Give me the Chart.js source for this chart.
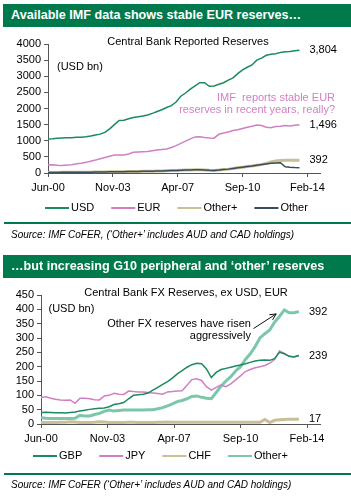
<!DOCTYPE html>
<html>
<head>
<meta charset="utf-8">
<script src="https://cdn.jsdelivr.net/npm/chart.js@4.4.1/dist/chart.umd.min.js"></script>
<style>
  body { margin: 0; background: #fff; font-family: "Liberation Sans", Arial, sans-serif; }
  #page { position: relative; width: 351px; height: 497px; overflow: hidden; background: #fff; }
  .bar { position: absolute; left: 3px; width: 348px; height: 23px; background: #007a4d; color: #fff;
         font-weight: bold; font-size: 12.6px; line-height: 23px; padding-left: 8px; box-sizing: border-box; white-space: nowrap; }
  .rule { position: absolute; left: 4px; width: 347px; height: 2px; background: #007a4d; }
  .src { position: absolute; left: 11px; font-style: italic; font-size: 10px; line-height: 12px; white-space: nowrap; color: #000; }
  canvas { position: absolute; left: 0; }
</style>
</head>
<body>
<div id="page">
  <div class="bar" style="top:4px">Available IMF data shows stable EUR reserves…</div>
  <canvas id="top" width="351" height="194" style="top:30px"></canvas>
  <div class="rule" style="top:222px"></div>
  <div class="src" style="top:229px">Source: IMF CoFER, (‘Other+’ includes AUD and CAD holdings)</div>

  <div class="bar" style="top:255px">…but increasing G10 peripheral and ‘other’ reserves</div>
  <canvas id="bottom" width="351" height="189" style="top:282px"></canvas>
  <div class="rule" style="top:473px"></div>
  <div class="src" style="top:479px">Source: IMF CoFER (‘Other+’ includes AUD and CAD holdings)</div>
</div>

<script>
// quarterly observations, Jun-00 .. Sep-13 (3 months apart)
const quarters = [
  'Jun-00','Sep-00','Dec-00','Mar-01','Jun-01','Sep-01','Dec-01','Mar-02','Jun-02','Sep-02','Dec-02',
  'Mar-03','Jun-03','Sep-03','Dec-03','Mar-04','Jun-04','Sep-04','Dec-04','Mar-05','Jun-05','Sep-05','Dec-05',
  'Mar-06','Jun-06','Sep-06','Dec-06','Mar-07','Jun-07','Sep-07','Dec-07','Mar-08','Jun-08','Sep-08','Dec-08',
  'Mar-09','Jun-09','Sep-09','Dec-09','Mar-10','Jun-10','Sep-10','Dec-10','Mar-11','Jun-11','Sep-11','Dec-11',
  'Mar-12','Jun-12','Sep-12','Dec-12','Mar-13','Jun-13','Sep-13'
];

// x axis ticks, in months after Jun-00
const tickMonths = [0, 41, 82, 123, 164];
const tickLabels = ['Jun-00', 'Nov-03', 'Apr-07', 'Sep-10', 'Feb-14'];

// top chart (USD bn)
const usd = [1054,1060,1075,1085,1090,1095,1105,1110,1125,1150,1180,1205,1260,1370,1500,1630,1635,1680,1720,1745,
  1770,1800,1850,1905,1960,2030,2090,2200,2380,2480,2600,2700,2800,2800,2690,2700,2750,2800,2880,2950,
  3080,3200,3280,3350,3500,3560,3650,3680,3700,3740,3760,3765,3790,3804];
const eur = [248,255,240,235,245,255,290,300,330,365,400,440,480,520,560,560,560,590,640,650,
  660,665,690,710,730,745,790,850,920,990,1060,1120,1125,1100,1085,1080,1200,1240,1270,1320,
  1340,1380,1420,1450,1490,1470,1420,1405,1440,1450,1470,1460,1480,1496];
const other = [18,18,19,20,20,21,22,23,24,25,28,30,32,35,38,40,42,45,48,50,
  52,55,58,62,65,70,75,80,85,90,95,100,100,95,85,80,90,105,120,140,
  160,180,200,215,240,260,280,300,310,320,195,180,170,165];
const otherPlus = [18,18,19,20,20,21,22,23,24,25,28,30,32,35,38,40,42,45,48,50,
  52,55,58,62,65,70,75,80,85,90,95,100,100,95,85,80,90,105,120,140,
  160,180,200,215,240,260,300,340,370,390,395,392,392,392];

// bottom chart (USD bn)
const gbp = [40,41,40,39,39,38,40,42,45,48,51,53,55,56,60,68,71,75,88,100,
  102,104,108,118,128,138,148,160,175,186,198,207,212,210,192,162,180,190,194,198,
  202,206,210,215,220,222,223,222,228,250,245,236,234,239];
const jpy = [92,95,90,86,84,83,84,72,90,90,88,85,84,98,100,107,104,103,115,113,
  112,112,110,108,106,104,112,113,115,116,135,155,158,152,130,118,128,136,130,140,
  154,168,183,190,196,200,204,212,225,255,246,236,235,239];
const chf = [5,5,5,5,6,6,8,7,5,5,5,6,8,7,5,5,5,5,6,6,
  5,5,5,5,6,6,7,6,6,6,6,6,6,6,6,6,6,6,6,6,
  6,6,6,6,6,6,16,5,13,15,16,17,17,17];
const otherPlus2 = [22,20,19,19,19,19,19,20,30,28,28,33,37,44,49,45,47,49,49,49,
  49,49,50,50,53,57,63,70,78,82,88,96,98,93,90,88,110,132,150,165,
  185,200,225,245,270,300,315,328,355,375,398,388,388,392];

const FONT = '"Liberation Sans", Arial, sans-serif';
Chart.defaults.font.family = FONT;
Chart.defaults.font.size = 11;
Chart.defaults.color = '#000';

function pts(arr) {
  return arr.map((v, i) => ({ x: i * 3, y: v }));
}

function line(label, arr, color, width, order) {
  return {
    label: label, data: pts(arr), borderColor: color, backgroundColor: color,
    borderWidth: width, pointRadius: 0, tension: 0, order: order || 0
  };
}

// titles, end values, notes, arrow and legend
const notesPlugin = {
  id: 'notes',
  afterDatasetsDraw(chart, args, o) {
    const ctx = chart.ctx, a = chart.chartArea, x = chart.scales.x, y = chart.scales.y;
    ctx.save();
    ctx.font = '11px ' + FONT;
    ctx.textBaseline = 'middle';
    ctx.fillStyle = '#000';
    ctx.textAlign = 'center';
    ctx.fillText(o.title, a.left + o.titleDx, a.top - 2);
    ctx.textAlign = 'left';
    ctx.fillText('(USD bn)', a.left + o.unitDx, a.top + o.unitDy);

    o.ends.forEach(function (i) {
      const d = chart.data.datasets[i].data;
      const p = d[d.length - 1];
      ctx.fillText(p.y.toLocaleString('en-US'), x.getPixelForValue(p.x) + 10, y.getPixelForValue(p.y));
    });

    o.notes.forEach(function (n) {
      ctx.fillStyle = n.color;
      ctx.textAlign = 'right';
      ctx.fillText(n.text, x.getPixelForValue(n.x), y.getPixelForValue(n.y));
    });

    if (o.arrow) {
      const x0 = x.getPixelForValue(o.arrow[0]), y0 = y.getPixelForValue(o.arrow[1]);
      const x1 = x.getPixelForValue(o.arrow[2]), y1 = y.getPixelForValue(o.arrow[3]);
      const ang = Math.atan2(y1 - y0, x1 - x0);
      ctx.strokeStyle = '#111';
      ctx.lineWidth = 1;
      ctx.beginPath();
      ctx.moveTo(x0, y0);
      ctx.lineTo(x1, y1);
      ctx.moveTo(x1 - 7 * Math.cos(ang - 0.45), y1 - 7 * Math.sin(ang - 0.45));
      ctx.lineTo(x1, y1);
      ctx.lineTo(x1 - 7 * Math.cos(ang + 0.45), y1 - 7 * Math.sin(ang + 0.45));
      ctx.stroke();
    }

    // legend, in dataset order
    let lx = o.legendX;
    const ly = a.bottom + o.legendDy;
    ctx.fillStyle = '#000';
    ctx.textAlign = 'left';
    chart.data.datasets.forEach(function (ds) {
      ctx.fillStyle = ds.borderColor;
      ctx.fillRect(lx, ly - 1, 24, 2);
      lx += 26;
      ctx.fillStyle = '#000';
      ctx.fillText(ds.label, lx, ly);
      lx += ctx.measureText(ds.label).width + 17;
    });
    ctx.restore();
  }
};

function makeChart(id, datasets, yMax, yStep, axisW, padTop, padBottom, notes) {
  return new Chart(document.getElementById(id), {
    type: 'line',
    data: { datasets: datasets },
    plugins: [notesPlugin],
    options: {
      responsive: false,
      animation: false,
      layout: { padding: { top: padTop, right: 31, left: 0, bottom: padBottom } },
      scales: {
        x: {
          type: 'linear', min: 0, max: 172,
          afterBuildTicks: (s) => { s.ticks = tickMonths.map((v) => ({ value: v })); },
          afterFit: (s) => { s.height = 22; },
          ticks: { autoSkip: false, maxRotation: 0, padding: 4,
                   callback: (v) => tickLabels[tickMonths.indexOf(v)] },
          grid: { drawOnChartArea: false, tickLength: 4, color: '#555' },
          border: { color: '#555' }
        },
        y: {
          min: 0, max: yMax,
          afterFit: (s) => { s.width = axisW; },
          ticks: { stepSize: yStep, autoSkip: false, padding: 3, callback: (v) => v },
          grid: { drawOnChartArea: false, tickLength: 4, color: '#555' },
          border: { color: '#555' }
        }
      },
      plugins: {
        legend: { display: false },
        tooltip: { enabled: false },
        notes: notes
      }
    }
  });
}

makeChart('top', [
  line('USD', usd, '#1b8a5c', 1.5),
  line('EUR', eur, '#d17fc4', 1.5),
  line('Other+', otherPlus, '#c8bf98', 3, 1),
  line('Other', other, '#3a4b5c', 1.5)
], 4000, 500, 48, 14, 29, {
  title: 'Central Bank Reported Reserves', titleDx: 140, unitDx: 9, unitDy: 23,
  legendX: 45, legendDy: 35,
  ends: [0, 1, 2],
  notes: [
    { text: 'IMF  reports stable EUR', x: 181.5, y: 2320, color: '#d17fc4' },
    { text: 'reserves in recent years, really?', x: 181.5, y: 1955, color: '#d17fc4' }
  ]
});

makeChart('bottom', [
  line('GBP', gbp, '#1b8a5c', 1.5),
  line('JPY', jpy, '#d17fc4', 1.5),
  line('CHF', chf, '#c8bf98', 3),
  line('Other+', otherPlus2, '#7cc7aa', 3)
], 450, 50, 41, 13, 25, {
  title: 'Central Bank FX Reserves, ex USD, EUR', titleDx: 145, unitDx: 7.5, unitDy: 14,
  legendX: 33, legendDy: 32,
  ends: [0, 2, 3],
  notes: [
    { text: 'Other FX reserves have risen', x: 129.4, y: 348, color: '#000' },
    { text: 'aggressively', x: 129.4, y: 307, color: '#000' }
  ],
  arrow: [131, 333, 145, 384]
});
</script>
</body>
</html>
